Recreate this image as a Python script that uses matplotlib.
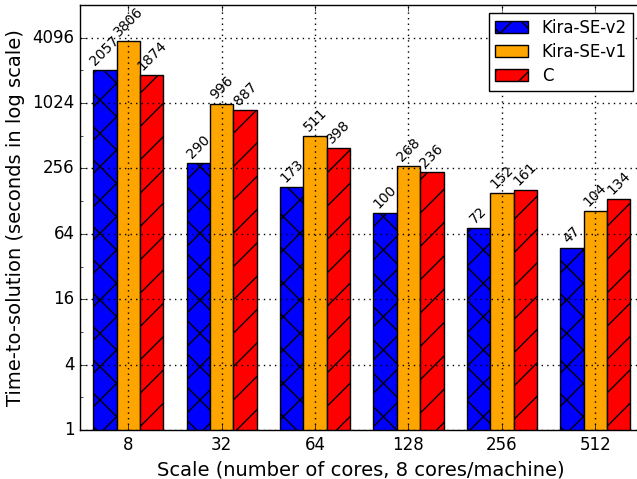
import matplotlib
matplotlib.use("Agg")
import matplotlib.pyplot as plt
import numpy as np
from matplotlib.ticker import FixedLocator, FixedFormatter, NullFormatter

plt.style.use('classic')

scales = ["8", "32", "64", "128", "256", "512"]
kira_v2 = [2057, 290, 173, 100, 72, 47]
kira_v1 = [3806, 996, 511, 268, 152, 104]
c_vals = [1874, 887, 398, 236, 161, 134]
series_names = ["Kira-SE-v2", "Kira-SE-v1", "C"]
yticks = [1, 4, 16, 64, 256, 1024, 4096]
yminor = [2, 8, 32, 128, 512, 2048]

fig = plt.figure(figsize=(6.37, 4.79), dpi=100, facecolor='white')
ax = fig.add_axes([80/637, 1-430/479, 561/637, 425/479])

ind = np.arange(len(scales))
w = 0.25
series = [kira_v2, kira_v1, c_vals]
colors = ['#0000ff', '#ffa500', '#ff0000']
hatches = ['x', '', '/']
for k, (vals, col, hat, name) in enumerate(zip(series, colors, hatches, series_names)):
    xs = ind + (k - 1) * w
    ax.bar(xs, vals, w, color=col, hatch=hat, edgecolor='black', label=name, align='center')
    for x, v in zip(xs, vals):
        ax.text(x, v * 1.04, str(v), rotation=45, ha='center', va='bottom', fontsize=10)

ax.set_yscale('log', base=2)
ax.set_ylim(1, 8192)
ax.set_xlim(-0.518, 5.49)
ax.yaxis.set_major_locator(FixedLocator(yticks))
ax.yaxis.set_major_formatter(FixedFormatter([str(t) for t in yticks]))
ax.yaxis.set_minor_locator(FixedLocator(yminor))
ax.yaxis.set_minor_formatter(NullFormatter())
ax.set_xticks(ind)
ax.set_xticklabels(scales)
ax.grid(True, color='black', linestyle=':', linewidth=1.0)
ax.set_axisbelow(False)
ax.set_xlabel("Scale (number of cores, 8 cores/machine)", fontsize=14)
ax.set_ylabel("Time-to-solution (seconds in log scale)", fontsize=14)
ax.legend(loc='upper right', fontsize=12, labelspacing=0.35, borderpad=0.35)

fig.savefig("out.png", dpi=100, facecolor='white')
